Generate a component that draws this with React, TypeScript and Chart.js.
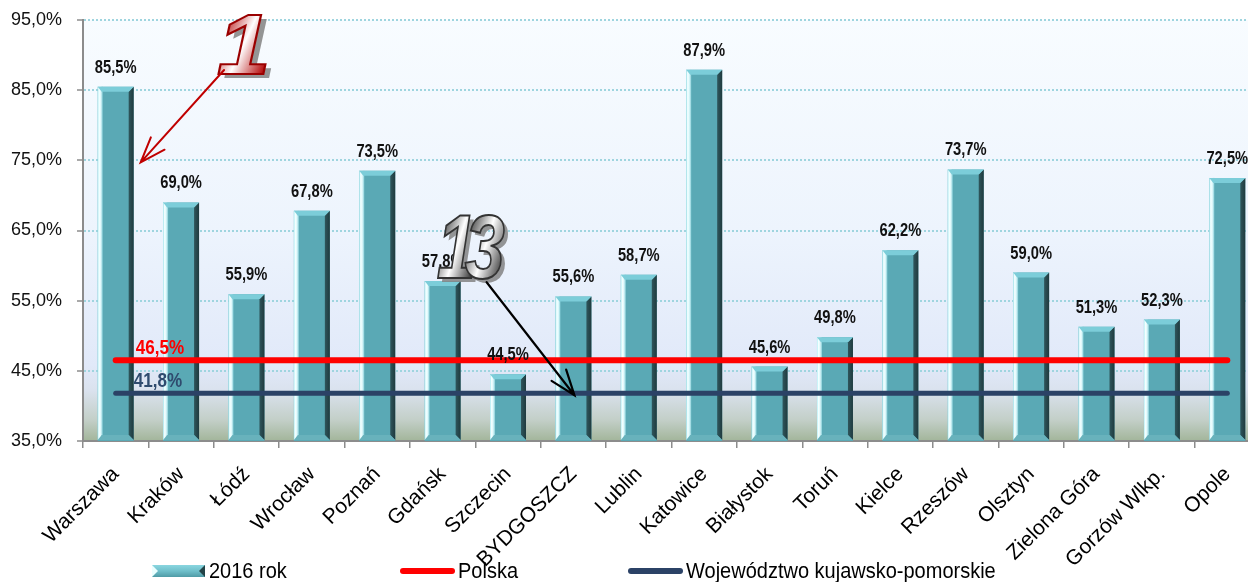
import React, { useEffect, useRef } from "react";
import { Chart, registerables } from "chart.js";
Chart.register(...registerables);

const categories = [
  "Warszawa", "Kraków", "Łódź", "Wrocław", "Poznań", "Gdańsk", "Szczecin", "BYDGOSZCZ", "Lublin",
  "Katowice", "Białystok", "Toruń", "Kielce", "Rzeszów", "Olsztyn", "Zielona Góra", "Gorzów Wlkp.", "Opole",
];
const values2016 = [85.5, 69.0, 55.9, 67.8, 73.5, 57.8, 44.5, 55.6, 58.7, 87.9, 45.6, 49.8, 62.2, 73.7, 59.0, 51.3, 52.3, 72.5];
const polska = [46.5, 46.5, 46.5, 46.5, 46.5, 46.5, 46.5, 46.5, 46.5, 46.5, 46.5, 46.5, 46.5, 46.5, 46.5, 46.5, 46.5, 46.5];
const kujawsko = [41.8, 41.8, 41.8, 41.8, 41.8, 41.8, 41.8, 41.8, 41.8, 41.8, 41.8, 41.8, 41.8, 41.8, 41.8, 41.8, 41.8, 41.8];
const seriesNames = ["2016 rok", "Polska", "Województwo kujawsko-pomorskie"];
const yMin = 35;
const yMax = 95;
const yStep = 10;

const SANS = "'Liberation Sans', Arial, sans-serif";
const TEAL = "#5aa9b5";
const RED = "#ff0000";
const NAVY = "#2b4266";

const fmt = (v: number) => v.toFixed(1).replace(".", ",") + "%";

function scaledText(ctx: CanvasRenderingContext2D, text: string, x: number, y: number, sx: number, sy: number) {
  ctx.save();
  ctx.translate(x, y);
  ctx.scale(sx, sy);
  ctx.fillText(text, 0, 0);
  ctx.restore();
}

function arrow(ctx: CanvasRenderingContext2D, x1: number, y1: number, x2: number, y2: number, color: string, lw: number) {
  ctx.save();
  ctx.strokeStyle = color;
  ctx.lineWidth = lw;
  ctx.lineCap = "round";
  ctx.beginPath();
  ctx.moveTo(x1, y1);
  ctx.lineTo(x2, y2);
  const ang = Math.atan2(y1 - y2, x1 - x2);
  const len = 27;
  const spread = (20 * Math.PI) / 180;
  ctx.moveTo(x2 + len * Math.cos(ang + spread), y2 + len * Math.sin(ang + spread));
  ctx.lineTo(x2, y2);
  ctx.lineTo(x2 + len * Math.cos(ang - spread), y2 + len * Math.sin(ang - spread));
  ctx.stroke();
  ctx.restore();
}

function bigDigit(ctx: CanvasRenderingContext2D, ch: string, x: number, y: number, sx: number, size: number, edge: string, mid: string, stroke: string) {
  ctx.save();
  ctx.translate(x, y);
  ctx.scale(sx, 1);
  ctx.font = "italic bold " + size + "px " + SANS;
  ctx.textBaseline = "alphabetic";
  ctx.textAlign = "left";
  const w = ctx.measureText(ch).width;
  ctx.fillStyle = "rgba(130,130,130,0.85)";
  ctx.fillText(ch, 5, 4);
  const g = ctx.createLinearGradient(0, -40, w, -20);
  g.addColorStop(0, edge);
  g.addColorStop(0.5, mid);
  g.addColorStop(1, edge);
  ctx.fillStyle = g;
  ctx.fillText(ch, 0, 0);
  ctx.lineWidth = 2;
  ctx.strokeStyle = stroke;
  ctx.strokeText(ch, 0, 0);
  ctx.restore();
  return w * sx;
}

const decorPlugin = {
  id: "decor",
  beforeDraw(chart: any) {
    const { ctx, chartArea } = chart;
    const { left, top, right, bottom } = chartArea;
    const g = ctx.createLinearGradient(0, top, 0, bottom);
    g.addColorStop(0, "#f8fcff");
    g.addColorStop(0.5, "#edf4fd");
    g.addColorStop(0.82, "#e1e9f9");
    g.addColorStop(0.88, "#dae2ee");
    g.addColorStop(0.95, "#c3cfc8");
    g.addColorStop(1, "#a2b59a");
    ctx.save();
    ctx.fillStyle = g;
    ctx.fillRect(left, top, right - left, bottom - top);
    ctx.restore();
  },
  afterDatasetDraw(chart: any, args: any) {
    if (args.index !== 0) return;
    const ctx = chart.ctx;
    const area = chart.chartArea;
    ctx.save();
    args.meta.data.forEach((bar: any) => {
      const { x, y, base, width } = bar.getProps(["x", "y", "base", "width"], true);
      const l = x - width / 2;
      const r = x + width / 2;
      const b = Math.min(base, area.bottom - 1);
      const bv = 5;
      const lg = ctx.createLinearGradient(l, 0, l + 5, 0);
      lg.addColorStop(0, "#b5eef5");
      lg.addColorStop(0.3, "#f4ffff");
      lg.addColorStop(0.6, "#dff9fc");
      lg.addColorStop(1, "#86cdd7");
      ctx.fillStyle = lg;
      ctx.fillRect(l, y, 5, b - y);
      const rg = ctx.createLinearGradient(r - bv, 0, r, 0);
      rg.addColorStop(0, "#2f565c");
      rg.addColorStop(1, "#1f3a3e");
      ctx.fillStyle = rg;
      ctx.beginPath();
      ctx.moveTo(r - bv, y + bv);
      ctx.lineTo(r, y);
      ctx.lineTo(r, b);
      ctx.lineTo(r - bv, b - bv);
      ctx.closePath();
      ctx.fill();
      ctx.fillStyle = "#7ccdd9";
      ctx.beginPath();
      ctx.moveTo(l, y);
      ctx.lineTo(r, y);
      ctx.lineTo(r - bv, y + bv);
      ctx.lineTo(l + 4, y + bv);
      ctx.closePath();
      ctx.fill();
      ctx.fillStyle = "#68b2bc";
      ctx.beginPath();
      ctx.moveTo(l + 4, b - bv);
      ctx.lineTo(r - bv, b - bv);
      ctx.lineTo(r, b);
      ctx.lineTo(l, b);
      ctx.closePath();
      ctx.fill();
    });
    ctx.restore();
  },
  afterDatasetsDraw(chart: any) {
    const ctx = chart.ctx;
    const xs = chart.scales.x;
    const ys = chart.scales.y;
    ctx.save();
    ctx.font = "bold 16px " + SANS;
    ctx.fillStyle = "#111";
    ctx.textAlign = "center";
    ctx.textBaseline = "alphabetic";
    const meta = chart.getDatasetMeta(0);
    meta.data.forEach((bar: any, i: number) => {
      scaledText(ctx, fmt(values2016[i]), bar.x, bar.y - 14, 0.92, 1.14);
    });
    ctx.font = "bold 18px " + SANS;
    ctx.textAlign = "left";
    ctx.fillStyle = RED;
    scaledText(ctx, fmt(polska[0]), xs.getPixelForValue(0) + 20, ys.getPixelForValue(polska[0]) - 6, 0.95, 1.1);
    ctx.fillStyle = "#2f4b6e";
    scaledText(ctx, fmt(kujawsko[0]), xs.getPixelForValue(0) + 18, ys.getPixelForValue(kujawsko[0]) - 6, 0.95, 1.1);
    ctx.restore();
  },
  afterDraw(chart: any) {
    const ctx = chart.ctx;
    const xs = chart.scales.x;
    const ys = chart.scales.y;
    const oneX = xs.getPixelForValue(1) + 36;
    const oneY = ys.getPixelForValue(yMax) + 54;
    bigDigit(ctx, "1", oneX, oneY, 1.12, 86, "#b81414", "#ffffff", "#9a0000");
    arrow(ctx, oneX + 7, oneY - 4, xs.getPixelForValue(0) + 25, ys.getPixelForValue(75) + 2, "#c00000", 2);
    const tX = xs.getPixelForValue(5) - 6;
    const tY = ys.getPixelForValue(58.2);
    const w1 = bigDigit(ctx, "1", tX, tY, 0.8, 90, "#3c3c3c", "#ffffff", "#333333");
    bigDigit(ctx, "3", tX + w1 - 12, tY, 0.8, 90, "#454545", "#ffffff", "#333333");
    arrow(ctx, tX + 50, tY + 4, xs.getPixelForValue(7) + 1, ys.getPixelForValue(kujawsko[7]) + 2, "#000000", 2.2);

    ctx.save();
    const ly = 571;
    const sx = 152, sw = 53, sh = 12;
    const sg = ctx.createLinearGradient(0, ly - sh / 2, 0, ly + sh / 2);
    sg.addColorStop(0, "#8ad6e0");
    sg.addColorStop(0.5, "#6fbfca");
    sg.addColorStop(1, "#4f9ba6");
    ctx.fillStyle = sg;
    ctx.fillRect(sx, ly - sh / 2, sw, sh);
    ctx.fillStyle = "#eaffff";
    ctx.beginPath();
    ctx.moveTo(sx, ly - sh / 2);
    ctx.lineTo(sx + 6, ly);
    ctx.lineTo(sx, ly + sh / 2);
    ctx.closePath();
    ctx.fill();
    ctx.fillStyle = "#234347";
    ctx.beginPath();
    ctx.moveTo(sx + sw, ly - sh / 2);
    ctx.lineTo(sx + sw - 6, ly);
    ctx.lineTo(sx + sw, ly + sh / 2);
    ctx.closePath();
    ctx.fill();
    ctx.lineCap = "round";
    ctx.lineWidth = 6;
    ctx.strokeStyle = RED;
    ctx.beginPath();
    ctx.moveTo(403, ly);
    ctx.lineTo(452, ly);
    ctx.stroke();
    ctx.strokeStyle = NAVY;
    ctx.beginPath();
    ctx.moveTo(631, ly);
    ctx.lineTo(680, ly);
    ctx.stroke();
    ctx.font = "20px " + SANS;
    ctx.fillStyle = "#000";
    ctx.textAlign = "left";
    ctx.textBaseline = "middle";
    scaledText(ctx, seriesNames[0], 209, ly + 1, 1, 1.08);
    scaledText(ctx, seriesNames[1], 458, ly + 1, 1, 1.08);
    scaledText(ctx, seriesNames[2], 686, ly + 1, 1, 1.08);
    ctx.restore();
  },
};

export default function App() {
  const ref = useRef<HTMLCanvasElement>(null);
  useEffect(() => {
    const chart = new Chart(ref.current as HTMLCanvasElement, {
      type: "bar",
      data: {
        labels: categories,
        datasets: [
          {
            type: "bar",
            label: seriesNames[0],
            data: values2016,
            backgroundColor: TEAL,
            borderWidth: 0,
            barPercentage: 0.55,
            categoryPercentage: 1,
            order: 3,
          } as any,
          {
            type: "line",
            label: seriesNames[1],
            data: polska,
            borderColor: RED,
            borderWidth: 6,
            borderCapStyle: "round",
            pointRadius: 0,
            fill: false,
            order: 2,
          } as any,
          {
            type: "line",
            label: seriesNames[2],
            data: kujawsko,
            borderColor: NAVY,
            borderWidth: 5,
            borderCapStyle: "round",
            pointRadius: 0,
            fill: false,
            order: 1,
          } as any,
        ],
      },
      options: {
        responsive: false,
        animation: false,
        layout: { padding: { top: 20, left: 0, right: 0, bottom: 0 } },
        plugins: { legend: { display: false }, tooltip: { enabled: false } },
        scales: {
          x: {
            offset: true,
            grid: {
              display: true,
              drawOnChartArea: false,
              drawTicks: true,
              tickLength: 7,
              offset: true,
              color: "#8c8c8c",
              lineWidth: 1.5,
            },
            border: { display: true, color: "#8c8c8c", width: 2 },
            ticks: {
              autoSkip: false,
              minRotation: 45,
              maxRotation: 45,
              padding: 14,
              color: "#000",
              font: { family: SANS, size: 21 },
            },
            afterFit: (s: any) => {
              s.height = 141;
            },
          },
          y: {
            min: yMin,
            max: yMax,
            ticks: {
              stepSize: yStep,
              padding: 15,
              color: "#111",
              font: { family: SANS, size: 18 },
              callback: (v: any) => fmt(Number(v)),
            },
            grid: {
              color: "#9fd5df",
              lineWidth: 2,
              drawTicks: true,
              tickLength: 6,
              tickColor: "#8c8c8c",
              tickWidth: 1.5,
            },
            border: { display: true, color: "#8c8c8c", width: 2, dash: [2, 2] },
            afterFit: (s: any) => {
              s.width = 83;
              s.paddingTop = 0;
              s.paddingBottom = 0;
            },
          },
        },
      },
      plugins: [decorPlugin],
    });
    return () => chart.destroy();
  }, []);
  return (
    <div style={{ position: "absolute", left: 0, top: 0, width: 1248, height: 582, overflow: "hidden", background: "#fff" }}>
      <canvas ref={ref} width={1260} height={582} style={{ display: "block" }} />
    </div>
  );
}
